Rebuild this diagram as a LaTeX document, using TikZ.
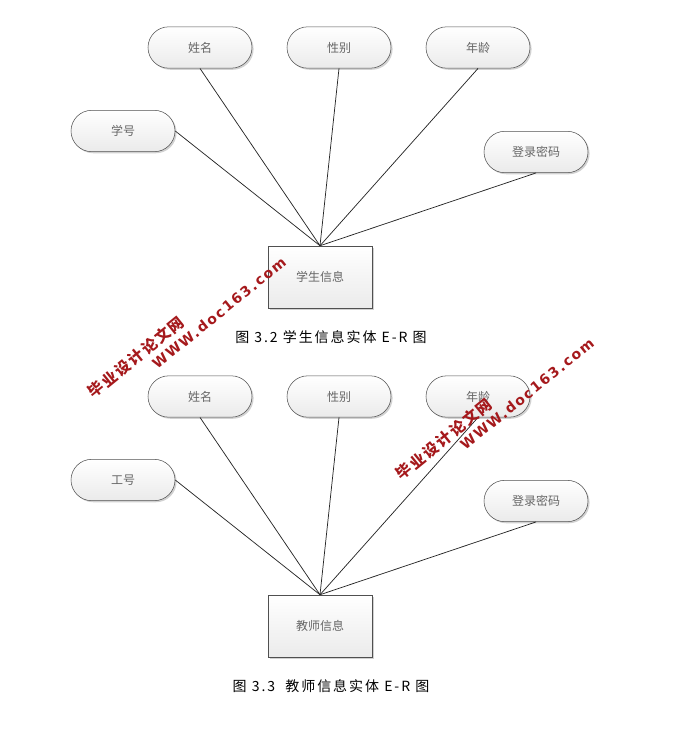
\documentclass[tikz,border=0pt]{standalone}
\usepackage{fontspec}
\usetikzlibrary{positioning,shapes,shadows}
\setmainfont{Noto Sans CJK SC}
\newfontfamily\capfont{Noto Sans CJK SC}[LetterSpace=14]
\newfontfamily\markfont{Noto Sans CJK SC}[LetterSpace=12]
\newfontfamily\urlfont{DejaVu Sans}[LetterSpace=12]
\definecolor{linegray}{HTML}{505050}
\definecolor{labelgray}{HTML}{666666}
\definecolor{markred}{HTML}{A5191C}

\begin{document}
\begin{tikzpicture}[
                x=0.75pt,y=-0.75pt,
                box/.style={draw=linegray,top color=white,bottom color=black!8,
                    drop shadow={shadow xshift=1.2pt,shadow yshift=-1.2pt,fill=black!30,opacity=.6},
                    text=labelgray,font=\fontsize{9}{11}\selectfont,inner sep=0pt},
                attr/.style={box,rounded rectangle,minimum width=78pt,minimum height=31pt},
                ent/.style={box,rectangle,minimum width=78pt,minimum height=46.5pt},
                captext/.style={font=\capfont\fontsize{10.5}{13}\selectfont},
                wmark/.style={text=markred,rotate=39,inner sep=0pt,font=\markfont\bfseries\fontsize{11.5}{14}\selectfont},
                wurl/.style={text=markred,rotate=39,inner sep=0pt,font=\urlfont\bfseries\fontsize{10.5}{14}\selectfont}
            ]
                \useasboundingbox (0,0) rectangle (686,739);

                % first diagram
                \node[attr] (xm1)  at (200,47.5) {姓名};
                \node[attr] (xb1)  at (339,47.5) {性别};
                \node[attr] (nl1)  at (478,47.5) {年龄};
                \node[attr] (xh1)  at (123,131)  {学号};
                \node[attr] (mm1)  at (536,152)  {登录密码};
                \node[ent]  (stu)  at (320,277)  {学生信息};
                \node[captext]  (cap1) at (331,337)  {图 3.2 学生信息实体 E-R 图};

                % second diagram
                \node[attr] (xm2)  at (200,396.5) {姓名};
                \node[attr] (xb2)  at (339,396.5) {性别};
                \node[attr] (nl2)  at (478,396.5) {年龄};
                \node[attr] (gh2)  at (123,480)   {工号};
                \node[attr] (mm2)  at (536,501)   {登录密码};
                \node[ent]  (tea)  at (320,626)   {教师信息};
                \node[captext]  (cap2) at (331,686)   {图 3.3\ \ 教师信息实体 E-R 图};

                \begin{scope}[black!85,line width=.55pt]
                    \draw (xm1.south) -- (stu.north);
                    \draw (xb1.south) -- (stu.north);
                    \draw (nl1.south) -- (stu.north);
                    \draw (xh1.east)  -- (stu.north);
                    \draw (mm1.south) -- (stu.north);
                    \draw (xm2.south) -- (tea.north);
                    \draw (xb2.south) -- (tea.north);
                    \draw (nl2.south) -- (tea.north);
                    \draw (gh2.east)  -- (tea.north);
                    \draw (mm2.south) -- (tea.north);
                \end{scope}

                % watermarks
                \node[wmark] (mark1) at (136,357)   {毕业设计论文网};
                \node[wurl]  (url1)  at (219,313)   {WWW.doc163.com};
                \node[wmark] (mark2) at (444,439)   {毕业设计论文网};
                \node[wurl]  (url2)  at (527,394)   {WWW.doc163.com};
            \end{tikzpicture}
\end{document}
